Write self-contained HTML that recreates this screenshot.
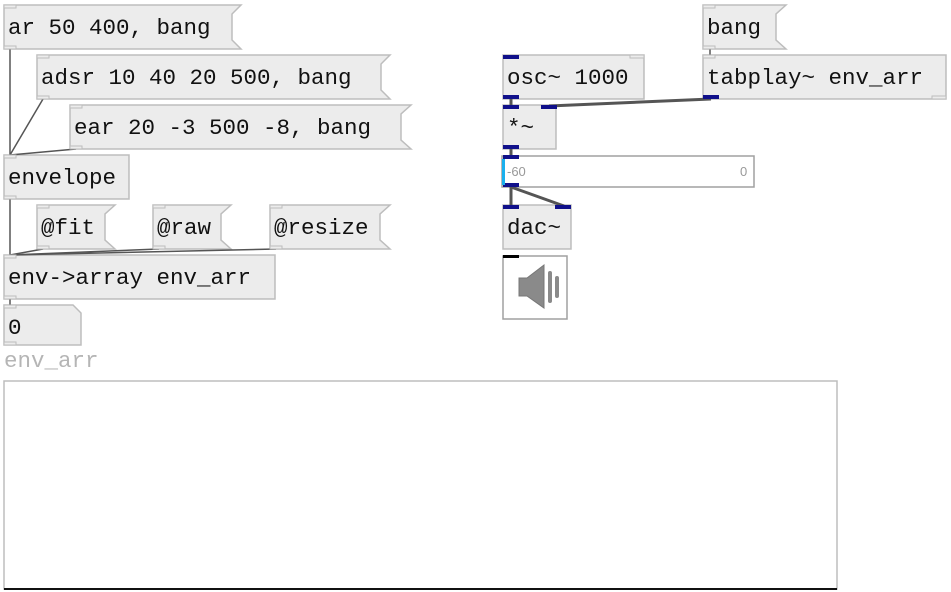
<!DOCTYPE html>
<html><head><meta charset="utf-8"><style>
html,body{margin:0;padding:0;background:#fff;}
svg{display:block;}
text{font-family:"Liberation Mono","DejaVu Sans Mono",monospace;font-size:22.5px;fill:#111;}
</style></head><body>
<svg width="951" height="592" viewBox="0 0 951 592" xmlns="http://www.w3.org/2000/svg">
<g fill="#ececec" stroke="#bdbdbd" stroke-width="1.5">
<!-- messages -->
<polygon points="4,5 241,5 232,14 232,40 241,49 4,49"/>
<polygon points="37,55 390,55 381,64 381,90 390,99 37,99"/>
<polygon points="70,105 411,105 401,114 401,140 411,149 70,149"/>
<polygon points="37,205 115,205 105,214 105,240 115,249 37,249"/>
<polygon points="153,205 231,205 221,214 221,240 231,249 153,249"/>
<polygon points="270,205 390,205 380,214 380,240 390,249 270,249"/>
<polygon points="703,5 786,5 776,14 776,40 786,49 703,49"/>
<!-- objects -->
<rect x="4" y="155" width="125" height="44"/>
<rect x="4" y="255" width="271" height="44"/>
<polygon points="4,305 73,305 81,313 81,345 4,345"/>
<rect x="503" y="55" width="141" height="44"/>
<rect x="703" y="55" width="243" height="44"/>
<rect x="503" y="105" width="53" height="44"/>
<rect x="503" y="205" width="68" height="44"/>
</g>
<rect x="502" y="156" width="252" height="31" fill="#fff" stroke="#a0a0a0" stroke-width="1.5"/>
<rect x="503" y="256" width="64" height="63" fill="#fff" stroke="#a0a0a0" stroke-width="1.5"/>
<rect x="4" y="381" width="833" height="208" fill="#fff" stroke="#bdbdbd" stroke-width="1.5"/>
<line x1="4" y1="589" x2="837" y2="589" stroke="#111" stroke-width="2"/>
<!-- connections -->
<g stroke="#555" stroke-width="1.5">
<line x1="10" y1="49" x2="10" y2="155"/>
<line x1="43" y1="99" x2="10" y2="155"/>
<line x1="76" y1="149" x2="10" y2="155"/>
<line x1="10" y1="199" x2="10" y2="255"/>
<line x1="43" y1="249" x2="10" y2="255"/>
<line x1="159" y1="249" x2="10" y2="255"/>
<line x1="276" y1="249" x2="10" y2="255"/>
<line x1="10" y1="299" x2="10" y2="305"/>
<line x1="710" y1="49" x2="710" y2="55"/>
</g>
<g stroke="#555" stroke-width="3">
<line x1="511" y1="99" x2="511" y2="105"/>
<line x1="711" y1="99" x2="549" y2="106"/>
<line x1="511" y1="149" x2="511" y2="156"/>
<line x1="511" y1="187" x2="511" y2="205"/>
<line x1="511" y1="187" x2="564" y2="206"/>
</g>
<!-- control inlets/outlets -->
<g fill="#ececec" stroke="#bdbdbd" stroke-width="1">
<rect x="4" y="5" width="12" height="3"/><rect x="4" y="46" width="12" height="3"/>
<rect x="37" y="55" width="12" height="3"/><rect x="37" y="96" width="12" height="3"/>
<rect x="70" y="105" width="12" height="3"/><rect x="70" y="146" width="12" height="3"/>
<rect x="4" y="155" width="12" height="3"/><rect x="4" y="196" width="12" height="3"/>
<rect x="37" y="205" width="12" height="3"/><rect x="37" y="246" width="12" height="3"/>
<rect x="153" y="205" width="12" height="3"/><rect x="153" y="246" width="12" height="3"/>
<rect x="270" y="205" width="12" height="3"/><rect x="270" y="246" width="12" height="3"/>
<rect x="4" y="255" width="12" height="3"/><rect x="4" y="296" width="12" height="3"/>
<rect x="4" y="305" width="12" height="3"/><rect x="4" y="342" width="12" height="3"/>
<rect x="703" y="5" width="12" height="3"/><rect x="703" y="46" width="12" height="3"/>
<rect x="703" y="55" width="12" height="3"/><rect x="932" y="96" width="14" height="3"/>
<rect x="630" y="55" width="14" height="3"/>
</g>
<!-- signal inlets/outlets -->
<g fill="#10108a">
<rect x="503" y="55" width="16" height="4"/><rect x="503" y="95" width="16" height="4"/>
<rect x="703" y="95" width="16" height="4"/>
<rect x="503" y="105" width="16" height="4"/><rect x="541" y="105" width="16" height="4"/>
<rect x="503" y="145" width="16" height="4"/>
<rect x="503" y="155" width="16" height="4"/><rect x="503" y="183" width="16" height="4"/>
<rect x="503" y="205" width="16" height="4"/><rect x="555" y="205" width="16" height="4"/>
</g>
<rect x="502" y="159" width="3" height="26" fill="#1ab0ee"/>
<rect x="503" y="255" width="16" height="3" fill="#000"/>
<!-- speaker -->
<polygon points="519,278 527,278 544,265 544,308 527,296 519,296" fill="#8a8a8a" stroke="#777" stroke-width="1"/>
<rect x="548" y="271" width="4" height="32" rx="2" fill="#8a8a8a"/>
<rect x="555" y="276" width="4" height="22" rx="2" fill="#8a8a8a"/>
<!-- text -->
<text x="8" y="34">ar 50 400, bang</text>
<text x="41" y="84">adsr 10 40 20 500, bang</text>
<text x="74" y="134">ear 20 -3 500 -8, bang</text>
<text x="8" y="184">envelope</text>
<text x="41" y="234">@fit</text>
<text x="157" y="234">@raw</text>
<text x="274" y="234">@resize</text>
<text x="8" y="284">env-&gt;array env_arr</text>
<text x="8" y="334">0</text>
<text x="4" y="367" style="fill:#b5b5b5">env_arr</text>
<text x="507" y="84">osc~ 1000</text>
<text x="707" y="34">bang</text>
<text x="707" y="84">tabplay~ env_arr</text>
<text x="507" y="134">*~</text>
<text x="507" y="234">dac~</text>
<text x="507" y="176" style="font-family:'Liberation Sans',sans-serif;font-size:13px;fill:#999">-60</text>
<text x="740" y="176" style="font-family:'Liberation Sans',sans-serif;font-size:13px;fill:#999">0</text>
</svg>
</body></html>
